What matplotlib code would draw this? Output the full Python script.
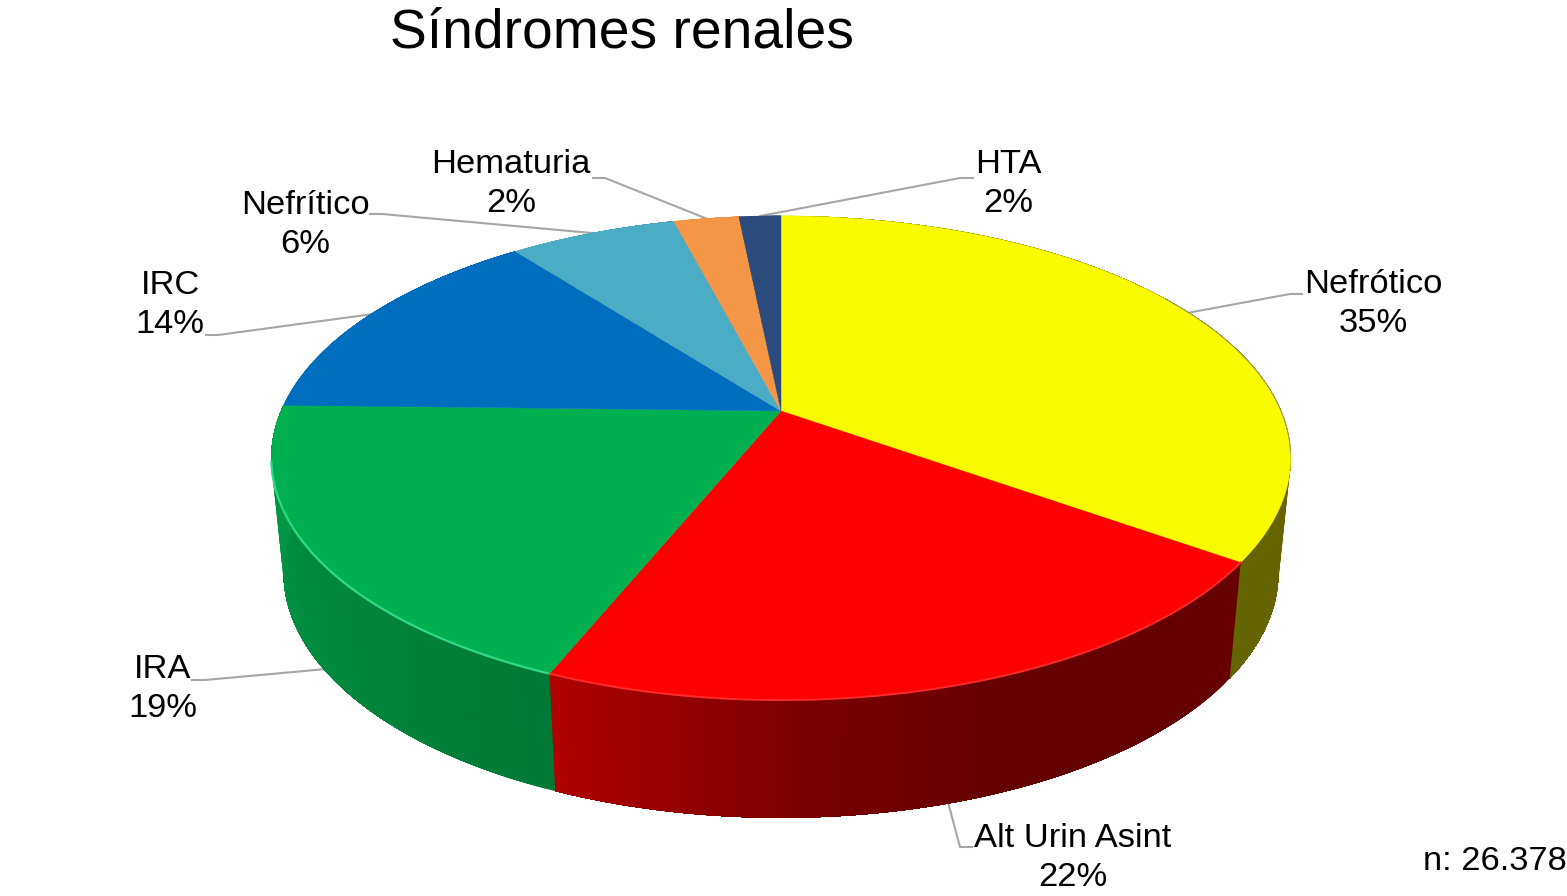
import numpy as np
import matplotlib
matplotlib.use("Agg")
import matplotlib.pyplot as plt

plt.rcParams['font.family'] = ['Liberation Sans', 'DejaVu Sans']

# valores (en sentido horario desde arriba)
nombres = ["Nefrótico", "Alt Urin Asint", "IRA", "IRC", "Nefrítico", "Hematuria", "HTA"]
valores = [34.8, 21.4, 19.2, 14.1, 6.4, 2.5, 1.6]
porcentajes = ["35%", "22%", "19%", "14%", "6%", "2%", "2%"]
colores = ["#FBFB00", "#FF0000", "#00AF50", "#006EBE", "#4BACC6", "#F59646", "#2A4B7C"]

# centro de cada etiqueta y codo de su linea guia
pos_etiqueta = [(1373, 304), (1073, 858), (163, 689), (170, 305), (305, 225), (511, 184), (1008, 184)]
codos = [[(1290, 294), (1302, 294)], [(960, 847), (972, 847)], [(205, 680), (192, 680)],
         [(218, 335), (206, 335)], [(382, 214), (370, 214)], [(605, 178), (593, 178)],
         [(960, 178), (973, 178)]]
# True si la guia sale de la pared lateral y no de la cara superior
desde_pared = [False, True, True, False, False, False, False]

CX = 781
K = 0.194


def sup(theta):
    # cara superior en perspectiva, theta en grados desde arriba
    t = np.radians(theta)
    d = 1 + K * np.cos(t)
    return CX + 500 * np.sin(t) / d, 411 - 233 * np.cos(t) / d


def inf(theta):
    # borde inferior de la pared
    t = np.radians(theta)
    d = 1 + K * np.cos(t)
    return CX + 488 * np.sin(t) / d, 525 - 236 * np.cos(t) / d


def sombra(theta):
    return np.interp(theta, [0, 125, 155, 178, 202, 270, 360], [.40, .40, .39, .48, .69, .88, .88])


fig = plt.figure(figsize=(15.67, 8.96), dpi=100)
ax = fig.add_axes([0, 0, 1, 1])
ax.set_xlim(0, 1567)
ax.set_ylim(896, 0)
ax.axis("off")

bordes = np.concatenate([[0], np.cumsum(valores)]) / sum(valores) * 360

# paredes, por tiras solapadas para el degradado
for i, c in enumerate(colores):
    base = np.array(matplotlib.colors.to_rgb(c))
    n = max(2, int((bordes[i + 1] - bordes[i]) / 1.0))
    th = np.linspace(bordes[i], bordes[i + 1], n + 1)
    for a, b in zip(th[:-1], th[1:]):
        # cada tira llega hasta el final de la porcion y la siguiente la tapa
        fin = np.linspace(a, bordes[i + 1], 150)
        x1, y1 = sup(fin)
        x2, y2 = inf(fin[::-1])
        col = base * sombra((a + b) / 2)
        ax.fill(np.r_[x1, x2], np.r_[y1, y2], color=col, lw=0, zorder=2)

# cara superior
for i, c in enumerate(colores):
    th = np.linspace(bordes[i], bordes[i + 1], 200)
    x, y = sup(th)
    ax.fill(np.r_[CX, x], np.r_[411, y], color=c, lw=0.3, zorder=3)

# brillo del canto delantero
th = np.linspace(bordes[2], bordes[3], 200)
ax.plot(*sup(th[th < 258]), color="#2FD987", lw=1.6, zorder=4)
th = np.linspace(bordes[1], bordes[2], 200)
ax.plot(*sup(th), color="#FF2A2A", lw=1.4, zorder=4)
th = np.linspace(58, 100, 100)
ax.plot(*sup(th), color="#9A9A60", lw=0.8, zorder=4)

# etiquetas y guias
for i in range(len(nombres)):
    medio = (bordes[i] + bordes[i + 1]) / 2
    x0, y0 = inf(medio) if desde_pared[i] else sup(medio)
    xs = [x0] + [p[0] for p in codos[i]]
    ys = [y0] + [p[1] for p in codos[i]]
    ax.plot(xs, ys, color="#A6A6A6", lw=1.5, zorder=1)
    ax.text(pos_etiqueta[i][0], pos_etiqueta[i][1], nombres[i] + "\n" + porcentajes[i],
            ha="center", va="center", fontsize=24.8, color="black", linespacing=1.34, zorder=5)

ax.text(622, 33, "Síndromes renales", ha="center", va="center", fontsize=39.7, color="black")
ax.text(1567, 862, "n: 26.378", ha="right", va="center", fontsize=24.8, color="black")

fig.savefig("out.png", dpi=100)
